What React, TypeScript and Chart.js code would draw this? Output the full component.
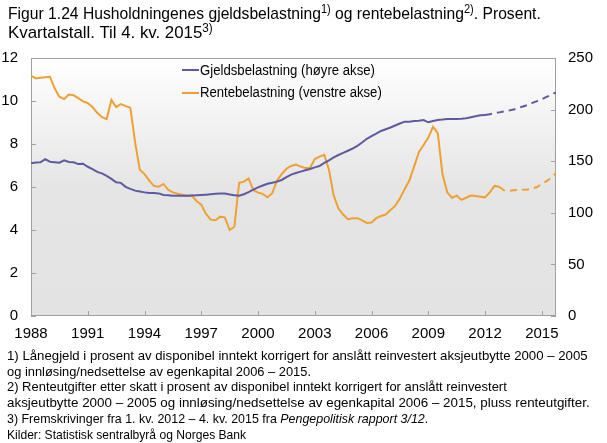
import React, { useEffect, useLayoutEffect, useRef, useState } from "react";
import { Chart, registerables } from "chart.js";

Chart.register(...registerables);

// ---- Data (quarterly, 1988 K1 – 2015 K4) ----
const startYear = 1988;
const tickYears = [1988, 1991, 1994, 1997, 2000, 2003, 2006, 2009, 2012, 2015];
const leftTicks = [0, 2, 4, 6, 8, 10, 12];
const rightTicks = [0, 50, 100, 150, 200, 250];

// Gjeldsbelastning (høyre akse), actual
const gjeldActual = [
  148, 148.8, 149, 152, 149.5, 149, 148.6, 150.8, 149.3, 149,
  147.2, 147.6, 144.6, 142.4, 139.6, 138.2, 135.8, 132.8, 129.6, 129,
  125.2, 123.2, 121.5, 120.6, 119.8, 119.1, 119.1, 118.8, 117.3, 116.9,
  116.6, 116.6, 116.6, 116.6, 116.8, 117, 117.3, 117.6, 118, 118.4,
  118.7, 118.6, 117.8, 117.1, 116.5, 118, 120, 122.4, 124.6, 126.4,
  128.1, 129.2, 130.2, 131.8, 134.5, 137, 138.5, 139.9, 141.2, 142.4,
  144, 145.3, 148.3, 150.8, 153.7, 156, 158, 160.1, 162.3, 164.9,
  168.1, 171.7, 174.3, 176.8, 179.3, 181, 182.7, 184.6, 186.5, 188.3,
  188.3, 189, 189.3, 189.8, 187.7, 189, 190, 190.3, 190.8, 190.8,
  191, 191.2, 191.6, 192.6, 193.6, 194.5, 194.8,
];
// Gjeldsbelastning projection (dashed)
const gjeldProjection = [
  195.6, 196.4, 197.3, 198.2, 199, 200, 201.5, 203, 204.5, 206.5,
  208.2, 210, 212.3, 214.5, 216.7,
];

// Rentebelastning (venstre akse), actual
const renteActual = [
  11.18, 11.05, 11.08, 11.11, 11.13, 10.59, 10.2, 10.09, 10.3, 10.27,
  10.13, 9.98, 9.9, 9.72, 9.45, 9.25, 9.16, 10.05, 9.72, 9.86,
  9.76, 9.69, 8.1, 6.8, 6.6, 6.3, 6.05, 6.01, 6.14, 5.87,
  5.75, 5.69, 5.64, 5.59, 5.6, 5.35, 5.18, 4.75, 4.48, 4.45,
  4.62, 4.58, 4.0, 4.15, 6.2, 6.25, 6.4, 5.86, 5.74, 5.68,
  5.52, 5.71, 6.3, 6.6, 6.85, 6.98, 7.04, 6.95, 6.88, 6.88,
  7.3, 7.41, 7.5, 6.8, 5.6, 5.0, 4.72, 4.5, 4.55, 4.55,
  4.45, 4.33, 4.35, 4.55, 4.65, 4.72, 4.93, 5.12, 5.47, 5.9,
  6.3, 6.95, 7.62, 7.95, 8.3, 8.8, 8.5, 6.6, 5.75, 5.5,
  5.6, 5.4, 5.5, 5.6, 5.58, 5.55, 5.52, 5.75, 6.05, 6.01,
];
// Rentebelastning projection (dashed)
const renteProjection = [
  5.85, 5.82, 5.85, 5.86, 5.87, 5.88, 5.93, 6.0, 6.15, 6.27, 6.43, 6.65,
];

const BLUE = "#5e5aa0";
const ORANGE = "#f0a032";
const FONT = "'Liberation Sans', Arial, Helvetica, sans-serif";

const qx = (i: number) => startYear + i / 4;
const toPoints = (vals: number[], offset: number) =>
  vals.map((v, k) => ({ x: qx(offset + k), y: v }));

function FitLine({ x, cy, w, size, children }: any) {
  const ref = useRef<HTMLSpanElement>(null);
  const [scale, setScale] = useState(1);
  useLayoutEffect(() => {
    if (ref.current) {
      const nat = ref.current.offsetWidth;
      if (nat > 0) setScale(w / nat);
    }
  }, [w]);
  const lh = Math.round(size * 1.2);
  return (
    <div
      style={{
        position: "absolute",
        left: x,
        top: cy - lh / 2,
        lineHeight: `${lh}px`,
        fontSize: size,
        whiteSpace: "nowrap",
        transformOrigin: "0 0",
        transform: `scaleX(${scale})`,
        color: "#000",
      }}
    >
      <span ref={ref} style={{ display: "inline-block" }}>
        {children}
      </span>
    </div>
  );
}

const Sup = ({ children }: any) => (
  <span style={{ fontSize: "0.7em", verticalAlign: "0.5em", lineHeight: 0 }}>{children}</span>
);

const framePlugin = {
  id: "frame",
  beforeDraw(chart: any) {
    const { ctx, chartArea: a } = chart;
    const g = ctx.createLinearGradient(0, a.top, 0, a.bottom);
    g.addColorStop(0, "#ffffff");
    g.addColorStop(0.5, "#e5e5e5");
    g.addColorStop(1, "#e3e3e3");
    ctx.save();
    ctx.fillStyle = g;
    ctx.fillRect(a.left, a.top, a.right - a.left, a.bottom - a.top);
    ctx.restore();
  },
  beforeDatasetsDraw(chart: any) {
    const { ctx, chartArea: a, scales } = chart;
    ctx.save();
    ctx.strokeStyle = "#a0a0a0";
    ctx.lineWidth = 1;
    ctx.strokeRect(a.left + 0.5, a.top + 0.5, a.right - a.left - 1, a.bottom - a.top - 1);
    const L = 5;
    ctx.beginPath();
    tickYears.forEach((yr) => {
      const px = Math.round(scales.x.getPixelForValue(yr)) + 0.5;
      ctx.moveTo(px, a.bottom);
      ctx.lineTo(px, a.bottom - L);
    });
    leftTicks.forEach((v) => {
      const py = Math.round(scales.y.getPixelForValue(v)) + 0.5;
      ctx.moveTo(a.left, py);
      ctx.lineTo(a.left + L, py);
    });
    rightTicks.forEach((v) => {
      const py = Math.round(scales.y1.getPixelForValue(v)) + 0.5;
      ctx.moveTo(a.right, py);
      ctx.lineTo(a.right - L, py);
    });
    ctx.stroke();
    ctx.restore();
  },
};

export default function App() {
  const canvasRef = useRef<HTMLCanvasElement>(null);

  useEffect(() => {
    const lastG = gjeldActual.length - 1;
    const lastR = renteActual.length - 1;
    const chart = new Chart(canvasRef.current as HTMLCanvasElement, {
      type: "line",
      data: {
        datasets: [
          {
            label: "Gjeldsbelastning (høyre akse)",
            data: toPoints(gjeldActual, 0),
            borderColor: BLUE,
            borderWidth: 2,
            pointRadius: 0,
            yAxisID: "y1",
          },
          {
            label: "Gjeld projeksjon",
            data: toPoints([gjeldActual[lastG], ...gjeldProjection], lastG),
            borderColor: BLUE,
            borderWidth: 2,
            borderDash: [7, 5],
            pointRadius: 0,
            yAxisID: "y1",
          },
          {
            label: "Rentebelastning (venstre akse)",
            data: toPoints(renteActual, 0),
            borderColor: ORANGE,
            borderWidth: 2,
            pointRadius: 0,
            yAxisID: "y",
          },
          {
            label: "Rente projeksjon",
            data: toPoints([renteActual[lastR], ...renteProjection], lastR),
            borderColor: ORANGE,
            borderWidth: 2,
            borderDash: [7, 5],
            pointRadius: 0,
            yAxisID: "y",
          },
        ],
      },
      options: {
        animation: false,
        responsive: false,
        maintainAspectRatio: false,
        devicePixelRatio: 1,
        layout: { padding: { top: 58, bottom: 97, left: 0, right: 0 } },
        plugins: { legend: { display: false }, tooltip: { enabled: false } },
        elements: { line: { tension: 0 } },
        scales: {
          x: {
            type: "linear",
            min: startYear,
            max: qx(111),
            afterBuildTicks: (s: any) => {
              s.ticks = tickYears.map((v) => ({ value: v }));
            },
            afterFit: (s: any) => {
              s.height = 30;
            },
            grid: { display: false, drawTicks: false },
            border: { display: false },
            ticks: {
              autoSkip: false,
              maxRotation: 0,
              color: "#000",
              padding: 9,
              font: { family: FONT, size: 15 },
              callback: (v: any) => String(v),
            },
          },
          y: {
            position: "left",
            min: 0,
            max: 12,
            afterBuildTicks: (s: any) => {
              s.ticks = leftTicks.map((v) => ({ value: v }));
            },
            afterFit: (s: any) => {
              s.width = 31;
            },
            grid: { display: false, drawTicks: false },
            border: { display: false },
            ticks: { color: "#000", padding: 13, font: { family: FONT, size: 15 } },
          },
          y1: {
            position: "right",
            min: 0,
            max: 250,
            afterBuildTicks: (s: any) => {
              s.ticks = rightTicks.map((v) => ({ value: v }));
            },
            afterFit: (s: any) => {
              s.width = 51;
            },
            grid: { display: false, drawTicks: false },
            border: { display: false },
            ticks: { color: "#000", padding: 12, font: { family: FONT, size: 15 } },
          },
        },
      },
      plugins: [framePlugin],
    });
    return () => chart.destroy();
  }, []);

  return (
    <div
      style={{
        position: "absolute",
        left: 0,
        top: 0,
        width: 607,
        height: 443,
        background: "#fff",
        fontFamily: FONT,
        overflow: "hidden",
      }}
    >
      <canvas
        ref={canvasRef}
        width={607}
        height={443}
        style={{ position: "absolute", left: 0, top: 0, width: 607, height: 443 }}
      />
      {/* Title */}
      <FitLine x={8} cy={14} w={533} size={17}>
        Figur 1.24 Husholdningenes gjeldsbelastning<Sup>1)</Sup> og rentebelastning<Sup>2)</Sup>. Prosent.
      </FitLine>
      <FitLine x={8} cy={33} w={205} size={17}>
        Kvartalstall. Til 4. kv. 2015<Sup>3)</Sup>
      </FitLine>

      {/* Legend */}
      <div style={{ position: "absolute", left: 182, top: 69, width: 17, height: 2, background: BLUE }} />
      <FitLine x={199.5} cy={70} w={175} size={14}>
        Gjeldsbelastning (høyre akse)
      </FitLine>
      <div style={{ position: "absolute", left: 182, top: 91.7, width: 17, height: 2, background: ORANGE }} />
      <FitLine x={199.5} cy={92.7} w={182} size={14}>
        Rentebelastning (venstre akse)
      </FitLine>

      {/* Footnotes */}
      <FitLine x={7} cy={356} w={581} size={13.5}>
        1) Lånegjeld i prosent av disponibel inntekt korrigert for anslått reinvestert aksjeutbytte 2000 – 2005
      </FitLine>
      <FitLine x={7} cy={371.7} w={304} size={13.5}>
        og innløsing/nedsettelse av egenkapital 2006 – 2015.
      </FitLine>
      <FitLine x={7} cy={387.4} w={500} size={13.5}>
        2) Renteutgifter etter skatt i prosent av disponibel inntekt korrigert for anslått reinvestert
      </FitLine>
      <FitLine x={7} cy={403.1} w={583} size={13.5}>
        aksjeutbytte 2000 – 2005 og innløsing/nedsettelse av egenkapital 2006 – 2015, pluss renteutgifter.
      </FitLine>
      <FitLine x={7} cy={418.8} w={421} size={13.5}>
        3) Fremskrivinger fra 1. kv. 2012 – 4. kv. 2015 fra <i>Pengepolitisk rapport 3/12</i>.
      </FitLine>
      <FitLine x={7} cy={434.5} w={239} size={13.5}>
        Kilder: Statistisk sentralbyrå og Norges Bank
      </FitLine>
    </div>
  );
}
